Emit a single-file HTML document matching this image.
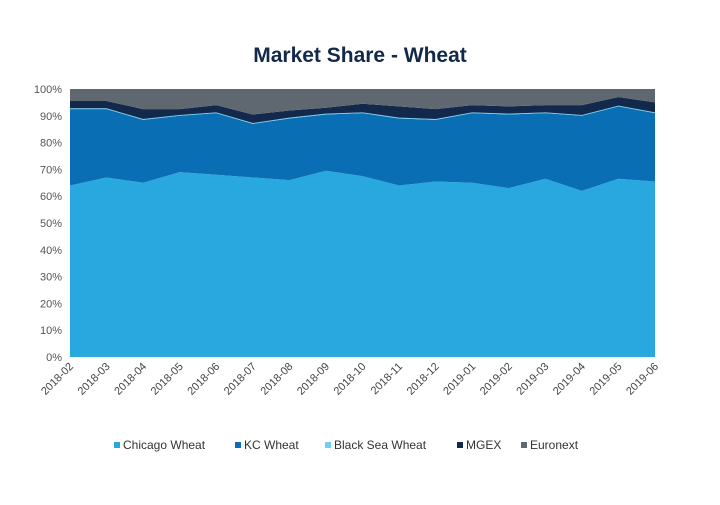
<!DOCTYPE html>
<html><head><meta charset="utf-8"><style>
body{margin:0;background:#fff;font-family:"Liberation Sans",sans-serif}
</style></head><body>
<svg id="c" width="720" height="500">
<text x="360" y="62" text-anchor="middle" font-size="21" font-weight="bold" fill="#13294b">Market Share - Wheat</text>
<g id="areas"></g><g id="yaxis"></g><g id="xaxis"></g><g id="legend"></g>
</svg>
<script>
const categories=["2018-02","2018-03","2018-04","2018-05","2018-06","2018-07","2018-08","2018-09","2018-10","2018-11","2018-12","2019-01","2019-02","2019-03","2019-04","2019-05","2019-06"];
const chicago=[64,67,65,69,68,67,66,69.5,67.5,64,65.5,65,63,66.5,62,66.5,65.5];
const kc=[28.5,25.5,23.5,21,23,20,23,21,23.5,25,23,26,27.5,24.5,28,27,25.5];
const blackSea=[0.3,0.3,0.3,0.3,0.3,0.3,0.3,0.3,0.3,0.3,0.3,0.3,0.3,0.3,0.3,0.3,0.3];
const mgex=[2.7,2.7,3.7,2.2,2.7,3.2,2.7,2.2,3.2,4.2,3.7,2.7,2.7,2.7,3.7,3.2,3.7];
const euronext=[4.5,4.5,7.5,7.5,6,9.5,8,7,5.5,6.5,7.5,6,6.5,6,6,3,5];
const yTicks=[0,10,20,30,40,50,60,70,80,90,100];
const seriesNames=["Chicago Wheat","KC Wheat","Black Sea Wheat","MGEX","Euronext"];
const seriesData=[chicago,kc,blackSea,mgex,euronext];
const colors=["#29a8e0","#0a6eb4","#6fd0f6","#13294b","#5f6771"];
const NS="http://www.w3.org/2000/svg";
const x0=70,x1=655,yTop=89,yBot=357;
const X=i=>x0+i*(x1-x0)/(categories.length-1);
const Y=v=>yBot-v*(yBot-yTop)/100;
function mk(t,a,p){const e=document.createElementNS(NS,t);for(const k in a)e.setAttribute(k,a[k]);p.appendChild(e);return e;}
const areas=document.getElementById('areas');
let base=categories.map(()=>0);
seriesData.forEach((s,si)=>{
  const top=base.map((b,i)=>b+s[i]);
  let d=top.map((v,i)=>(i?'L':'M')+X(i)+','+Y(Math.min(v,100))).join('');
  for(let i=categories.length-1;i>=0;i--)d+='L'+X(i)+','+Y(Math.min(base[i],100));
  const p=mk('path',{d:d+'Z',fill:colors[si]},areas);
  
  
  base=top;
});
const ya=document.getElementById('yaxis');
yTicks.forEach(t=>{
  const e=mk('text',{x:62,y:Y(t)+4,'text-anchor':'end','font-size':11,fill:'#555'},ya);
  e.textContent=t+'%';
  
  
});
const xa=document.getElementById('xaxis');
categories.forEach((c,i)=>{
  const e=mk('text',{x:X(i)+4,y:yBot+10,'text-anchor':'end','font-size':11,fill:'#444',transform:`rotate(-45 ${X(i)+4} ${yBot+10})`},xa);
  e.textContent=c;
  
  
});
const lg=document.getElementById('legend');
const lx=[114,235,325,457,521];
seriesNames.forEach((n,i)=>{
  const g=mk('g',{},lg);
  
  
  mk('rect',{x:lx[i],y:442,width:6,height:6,fill:colors[i]},g);
  const t=mk('text',{x:lx[i]+9,y:449,'font-size':12,fill:'#333'},g);
  t.textContent=n;
});
</script>
</body></html>
